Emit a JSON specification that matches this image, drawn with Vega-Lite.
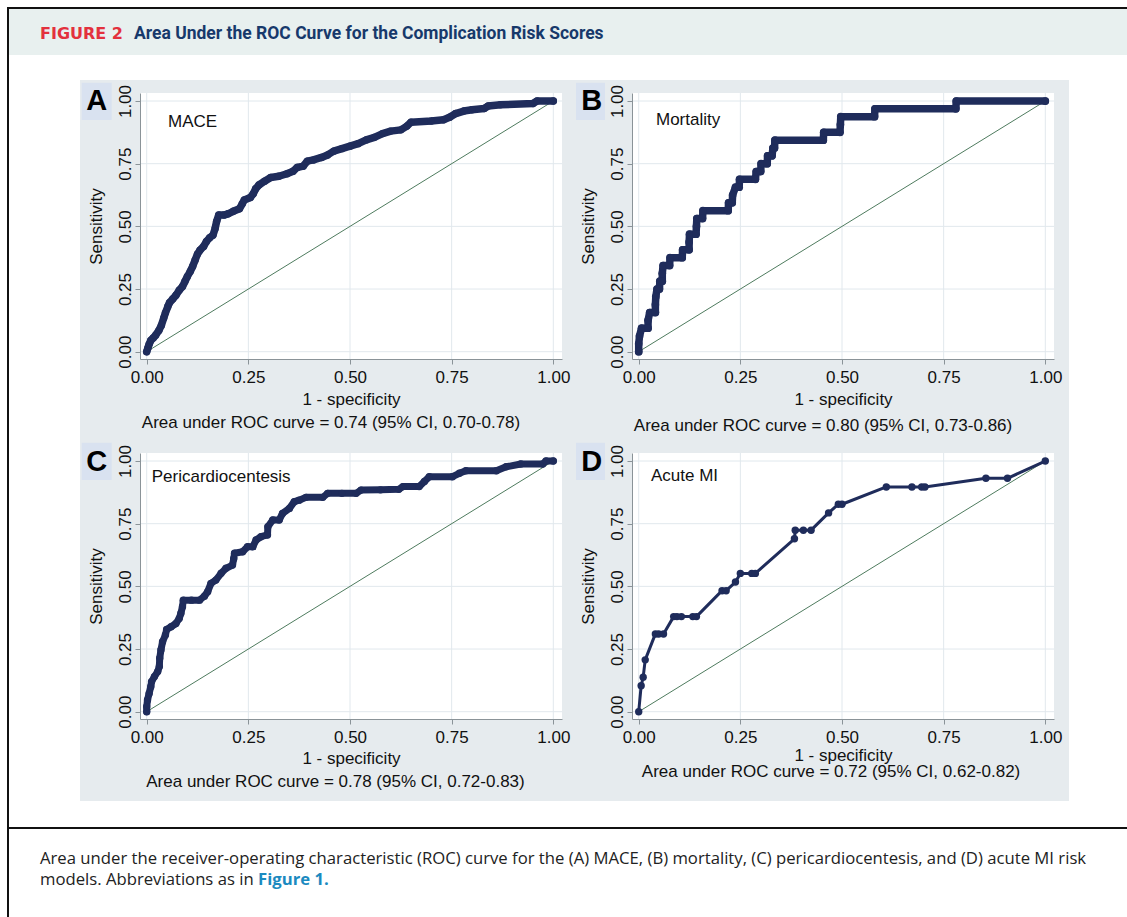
{
  "$schema": "https://vega.github.io/schema/vega-lite/v6.json",
  "padding": 0,
  "background": "#ffffff",
  "spacing": 0,
  "config": {
    "view": {"stroke": null},
    "axis": {
      "labelFont": "Liberation Sans", "labelFontSize": 17, "labelColor": "#111111",
      "titleFont": "Liberation Sans", "titleFontSize": 17, "titleFontWeight": "normal", "titleColor": "#111111",
      "domainColor": "#8a9398", "tickColor": "#8a9398", "tickSize": 5, "grid": false, "zindex": 1
    }
  },
  "datasets": {
    "figure": [{"label": "FIGURE 2", "title": "Area Under the ROC Curve for the Complication Risk Scores", "caption1": "Area under the receiver-operating characteristic (ROC) curve for the (A) MACE, (B) mortality, (C) pericardiocentesis, and (D) acute MI risk", "caption2": "models. Abbreviations as in", "caption3": "Figure 1."}],
    "panels": [
      {"panel": "A", "letter": "A", "name": "MACE", "note": "Area under ROC curve = 0.74 (95% CI, 0.70-0.78)"},
      {"panel": "B", "letter": "B", "name": "Mortality", "note": "Area under ROC curve = 0.80 (95% CI, 0.73-0.86)"},
      {"panel": "C", "letter": "C", "name": "Pericardiocentesis", "note": "Area under ROC curve = 0.78 (95% CI, 0.72-0.83)"},
      {"panel": "D", "letter": "D", "name": "Acute MI", "note": "Area under ROC curve = 0.72 (95% CI, 0.62-0.82)"}
    ],
    "grid": [{"v": 0}, {"v": 0.25}, {"v": 0.5}, {"v": 0.75}, {"v": 1}],
    "mace": [
      {"fpr": 0, "tpr": 0}, {"fpr": 0.003, "tpr": 0.015}, {"fpr": 0.006, "tpr": 0.03}, {"fpr": 0.01, "tpr": 0.045}, {"fpr": 0.016, "tpr": 0.055}, {"fpr": 0.022, "tpr": 0.066}, {"fpr": 0.03, "tpr": 0.085}, {"fpr": 0.036, "tpr": 0.105}, {"fpr": 0.042, "tpr": 0.135}, {"fpr": 0.046, "tpr": 0.155}, {"fpr": 0.052, "tpr": 0.18}, {"fpr": 0.056, "tpr": 0.195}, {"fpr": 0.064, "tpr": 0.21}, {"fpr": 0.072, "tpr": 0.225}, {"fpr": 0.08, "tpr": 0.245}, {"fpr": 0.088, "tpr": 0.26}, {"fpr": 0.094, "tpr": 0.28}, {"fpr": 0.1, "tpr": 0.3}, {"fpr": 0.107, "tpr": 0.32}, {"fpr": 0.113, "tpr": 0.34}, {"fpr": 0.119, "tpr": 0.365}, {"fpr": 0.125, "tpr": 0.39}, {"fpr": 0.131, "tpr": 0.405}, {"fpr": 0.14, "tpr": 0.42}, {"fpr": 0.147, "tpr": 0.44}, {"fpr": 0.155, "tpr": 0.455}, {"fpr": 0.163, "tpr": 0.465}, {"fpr": 0.168, "tpr": 0.49}, {"fpr": 0.172, "tpr": 0.52}, {"fpr": 0.177, "tpr": 0.545}, {"fpr": 0.19, "tpr": 0.545}, {"fpr": 0.2, "tpr": 0.55}, {"fpr": 0.213, "tpr": 0.56}, {"fpr": 0.228, "tpr": 0.57}, {"fpr": 0.235, "tpr": 0.59}, {"fpr": 0.24, "tpr": 0.605}, {"fpr": 0.255, "tpr": 0.615}, {"fpr": 0.262, "tpr": 0.63}, {"fpr": 0.268, "tpr": 0.65}, {"fpr": 0.276, "tpr": 0.665}, {"fpr": 0.29, "tpr": 0.68}, {"fpr": 0.305, "tpr": 0.695}, {"fpr": 0.325, "tpr": 0.7}, {"fpr": 0.345, "tpr": 0.71}, {"fpr": 0.36, "tpr": 0.72}, {"fpr": 0.37, "tpr": 0.735}, {"fpr": 0.385, "tpr": 0.74}, {"fpr": 0.395, "tpr": 0.76}, {"fpr": 0.41, "tpr": 0.765}, {"fpr": 0.43, "tpr": 0.775}, {"fpr": 0.445, "tpr": 0.785}, {"fpr": 0.46, "tpr": 0.8}, {"fpr": 0.48, "tpr": 0.81}, {"fpr": 0.5, "tpr": 0.82}, {"fpr": 0.52, "tpr": 0.83}, {"fpr": 0.54, "tpr": 0.845}, {"fpr": 0.56, "tpr": 0.855}, {"fpr": 0.58, "tpr": 0.87}, {"fpr": 0.6, "tpr": 0.88}, {"fpr": 0.625, "tpr": 0.885}, {"fpr": 0.64, "tpr": 0.9}, {"fpr": 0.65, "tpr": 0.915}, {"fpr": 0.7, "tpr": 0.92}, {"fpr": 0.73, "tpr": 0.925}, {"fpr": 0.745, "tpr": 0.935}, {"fpr": 0.76, "tpr": 0.95}, {"fpr": 0.78, "tpr": 0.96}, {"fpr": 0.8, "tpr": 0.965}, {"fpr": 0.83, "tpr": 0.97}, {"fpr": 0.84, "tpr": 0.98}, {"fpr": 0.87, "tpr": 0.985}, {"fpr": 0.95, "tpr": 0.99}, {"fpr": 0.96, "tpr": 1}, {"fpr": 1, "tpr": 1}
    ],
    "mortality": [
      {"fpr": 0, "tpr": 0}, {"fpr": 0, "tpr": 0.03125}, {"fpr": 0.002, "tpr": 0.0625}, {"fpr": 0.007, "tpr": 0.09375}, {"fpr": 0.023, "tpr": 0.09375}, {"fpr": 0.023, "tpr": 0.125}, {"fpr": 0.027, "tpr": 0.15625}, {"fpr": 0.041, "tpr": 0.15625}, {"fpr": 0.041, "tpr": 0.1875}, {"fpr": 0.042, "tpr": 0.21875}, {"fpr": 0.045, "tpr": 0.25}, {"fpr": 0.051, "tpr": 0.25}, {"fpr": 0.052, "tpr": 0.28125}, {"fpr": 0.058, "tpr": 0.28125}, {"fpr": 0.058, "tpr": 0.3125}, {"fpr": 0.06, "tpr": 0.34375}, {"fpr": 0.076, "tpr": 0.34375}, {"fpr": 0.077, "tpr": 0.375}, {"fpr": 0.107, "tpr": 0.375}, {"fpr": 0.108, "tpr": 0.40625}, {"fpr": 0.124, "tpr": 0.40625}, {"fpr": 0.124, "tpr": 0.4375}, {"fpr": 0.125, "tpr": 0.46875}, {"fpr": 0.141, "tpr": 0.46875}, {"fpr": 0.142, "tpr": 0.5}, {"fpr": 0.143, "tpr": 0.53125}, {"fpr": 0.157, "tpr": 0.53125}, {"fpr": 0.158, "tpr": 0.5625}, {"fpr": 0.22, "tpr": 0.5625}, {"fpr": 0.221, "tpr": 0.59375}, {"fpr": 0.23, "tpr": 0.59375}, {"fpr": 0.231, "tpr": 0.625}, {"fpr": 0.238, "tpr": 0.65625}, {"fpr": 0.247, "tpr": 0.65625}, {"fpr": 0.248, "tpr": 0.6875}, {"fpr": 0.287, "tpr": 0.6875}, {"fpr": 0.289, "tpr": 0.71875}, {"fpr": 0.3, "tpr": 0.71875}, {"fpr": 0.301, "tpr": 0.75}, {"fpr": 0.316, "tpr": 0.75}, {"fpr": 0.317, "tpr": 0.78125}, {"fpr": 0.328, "tpr": 0.78125}, {"fpr": 0.33, "tpr": 0.8125}, {"fpr": 0.334, "tpr": 0.8125}, {"fpr": 0.335, "tpr": 0.84375}, {"fpr": 0.454, "tpr": 0.84375}, {"fpr": 0.455, "tpr": 0.875}, {"fpr": 0.495, "tpr": 0.875}, {"fpr": 0.496, "tpr": 0.90625}, {"fpr": 0.497, "tpr": 0.9375}, {"fpr": 0.58, "tpr": 0.9375}, {"fpr": 0.581, "tpr": 0.96875}, {"fpr": 0.78, "tpr": 0.96875}, {"fpr": 0.781, "tpr": 1}, {"fpr": 1, "tpr": 1}
    ],
    "pericardio": [
      {"fpr": 0, "tpr": 0}, {"fpr": 0, "tpr": 0.02}, {"fpr": 0.002, "tpr": 0.047}, {"fpr": 0.006, "tpr": 0.073}, {"fpr": 0.01, "tpr": 0.1}, {"fpr": 0.012, "tpr": 0.12}, {"fpr": 0.019, "tpr": 0.14}, {"fpr": 0.027, "tpr": 0.16}, {"fpr": 0.031, "tpr": 0.18}, {"fpr": 0.032, "tpr": 0.213}, {"fpr": 0.035, "tpr": 0.246}, {"fpr": 0.039, "tpr": 0.279}, {"fpr": 0.046, "tpr": 0.306}, {"fpr": 0.049, "tpr": 0.328}, {"fpr": 0.06, "tpr": 0.339}, {"fpr": 0.072, "tpr": 0.352}, {"fpr": 0.08, "tpr": 0.372}, {"fpr": 0.084, "tpr": 0.392}, {"fpr": 0.088, "tpr": 0.419}, {"fpr": 0.09, "tpr": 0.445}, {"fpr": 0.11, "tpr": 0.445}, {"fpr": 0.13, "tpr": 0.445}, {"fpr": 0.142, "tpr": 0.461}, {"fpr": 0.15, "tpr": 0.479}, {"fpr": 0.158, "tpr": 0.512}, {"fpr": 0.17, "tpr": 0.525}, {"fpr": 0.183, "tpr": 0.552}, {"fpr": 0.195, "tpr": 0.572}, {"fpr": 0.211, "tpr": 0.585}, {"fpr": 0.214, "tpr": 0.61}, {"fpr": 0.216, "tpr": 0.632}, {"fpr": 0.236, "tpr": 0.638}, {"fpr": 0.248, "tpr": 0.658}, {"fpr": 0.261, "tpr": 0.658}, {"fpr": 0.269, "tpr": 0.685}, {"fpr": 0.281, "tpr": 0.698}, {"fpr": 0.297, "tpr": 0.705}, {"fpr": 0.298, "tpr": 0.738}, {"fpr": 0.31, "tpr": 0.765}, {"fpr": 0.326, "tpr": 0.765}, {"fpr": 0.334, "tpr": 0.791}, {"fpr": 0.351, "tpr": 0.811}, {"fpr": 0.363, "tpr": 0.838}, {"fpr": 0.375, "tpr": 0.844}, {"fpr": 0.392, "tpr": 0.855}, {"fpr": 0.433, "tpr": 0.855}, {"fpr": 0.445, "tpr": 0.871}, {"fpr": 0.48, "tpr": 0.871}, {"fpr": 0.515, "tpr": 0.871}, {"fpr": 0.527, "tpr": 0.884}, {"fpr": 0.575, "tpr": 0.885}, {"fpr": 0.62, "tpr": 0.887}, {"fpr": 0.63, "tpr": 0.898}, {"fpr": 0.67, "tpr": 0.898}, {"fpr": 0.683, "tpr": 0.918}, {"fpr": 0.695, "tpr": 0.9375}, {"fpr": 0.752, "tpr": 0.9375}, {"fpr": 0.769, "tpr": 0.951}, {"fpr": 0.785, "tpr": 0.961}, {"fpr": 0.86, "tpr": 0.961}, {"fpr": 0.884, "tpr": 0.977}, {"fpr": 0.92, "tpr": 0.988}, {"fpr": 0.974, "tpr": 0.988}, {"fpr": 0.982, "tpr": 1}, {"fpr": 1, "tpr": 1}
    ],
    "ami": [
      {"fpr": 0, "tpr": 0}, {"fpr": 0.006, "tpr": 0.1034}, {"fpr": 0.011, "tpr": 0.1379}, {"fpr": 0.016, "tpr": 0.2069}, {"fpr": 0.041, "tpr": 0.3103}, {"fpr": 0.049, "tpr": 0.3103}, {"fpr": 0.061, "tpr": 0.3103}, {"fpr": 0.086, "tpr": 0.3793}, {"fpr": 0.094, "tpr": 0.3793}, {"fpr": 0.105, "tpr": 0.3793}, {"fpr": 0.133, "tpr": 0.3793}, {"fpr": 0.142, "tpr": 0.3793}, {"fpr": 0.205, "tpr": 0.4828}, {"fpr": 0.215, "tpr": 0.4828}, {"fpr": 0.238, "tpr": 0.5172}, {"fpr": 0.25, "tpr": 0.5517}, {"fpr": 0.278, "tpr": 0.5517}, {"fpr": 0.287, "tpr": 0.5517}, {"fpr": 0.383, "tpr": 0.6897}, {"fpr": 0.385, "tpr": 0.7241}, {"fpr": 0.405, "tpr": 0.7241}, {"fpr": 0.424, "tpr": 0.7241}, {"fpr": 0.467, "tpr": 0.7931}, {"fpr": 0.491, "tpr": 0.8276}, {"fpr": 0.5, "tpr": 0.8276}, {"fpr": 0.609, "tpr": 0.8966}, {"fpr": 0.672, "tpr": 0.8966}, {"fpr": 0.696, "tpr": 0.8966}, {"fpr": 0.704, "tpr": 0.8966}, {"fpr": 0.854, "tpr": 0.931}, {"fpr": 0.907, "tpr": 0.931}, {"fpr": 1, "tpr": 1}
    ]
  },
  "vconcat": [
    {
      "width": 987, "height": 80,
      "data": {"name": "figure"},
      "layer": [
        {"mark": {"type": "rect", "color": "#e8f0ef"},
         "encoding": {
           "x": {"datum": -0.13273, "type": "quantitative", "scale": {"domain": [0, 1], "nice": false, "zero": false}, "axis": null},
           "x2": {"datum": 1},
           "y": {"datum": 0.1125, "type": "quantitative", "scale": {"domain": [0, 1], "nice": false, "zero": false, "reverse": true}, "axis": null},
           "y2": {"datum": 0.6875}}},
        {"mark": {"type": "rect", "color": "#111111"}, "encoding": {"x": {"datum": -0.13475}, "x2": {"datum": 1}, "y": {"datum": 0.0875}, "y2": {"datum": 0.1125}}},
        {"mark": {"type": "rect", "color": "#111111"}, "encoding": {"x": {"datum": -0.13475}, "x2": {"datum": -0.13273}, "y": {"datum": 0.0875}, "y2": {"datum": 1}}},
        {"mark": {"type": "text", "align": "left", "baseline": "middle", "font": "DejaVu Sans", "fontWeight": "bold", "fontSize": 16, "color": "#e3313d"},
         "encoding": {"x": {"datum": -0.10132}, "y": {"datum": 0.43}, "text": {"field": "label"}}},
        {"mark": {"type": "text", "align": "left", "baseline": "middle", "font": "Roboto", "fontWeight": "bold", "fontSize": 17.5, "color": "#17396b"},
         "encoding": {"x": {"datum": -0.00608}, "y": {"datum": 0.43}, "text": {"field": "title"}}}
      ]
    },
    {
      "hconcat": [
        {
          "width": 422, "height": 266,
          "data": {"name": "panels"},
          "transform": [{"filter": "datum.panel === 'A'"}],
          "layer": [
            {"mark": {"type": "rect", "color": "#e6ebee"},
             "encoding": {
               "x": {"datum": -0.1641, "type": "quantitative", "scale": {"domain": [-0.0165, 1.0214], "nice": false, "zero": false},
                     "axis": {"title": "1 - specificity", "values": [0, 0.25, 0.5, 0.75, 1], "format": ".2f", "labelFlush": false, "labelOverlap": false, "labelPadding": 5, "titlePadding": 6, "zindex": 1}},
               "x2": {"datum": 1.05334},
               "y": {"datum": -0.35217, "type": "quantitative", "scale": {"domain": [-0.0291, 1.032], "nice": false, "zero": false},
                     "axis": {"title": "Sensitivity", "values": [0, 0.25, 0.5, 0.75, 1], "format": ".2f", "labelFlush": false, "labelOverlap": false, "labelAngle": -90, "labelAlign": "center", "labelBaseline": "alphabetic", "labelPadding": 5, "titlePadding": 11, "zindex": 1}},
               "y2": {"datum": 1.08381}}},
            {"mark": {"type": "rect", "color": "#ffffff"}, "encoding": {"x": {"datum": -0.3608}, "x2": {"datum": -0.1641}, "y": {"datum": -0.35217}, "y2": {"datum": 1.08381}}},
            {"mark": {"type": "rect", "color": "#111111"}, "encoding": {"x": {"datum": -0.3436}, "x2": {"datum": -0.3387}, "y": {"datum": -0.35217}, "y2": {"datum": 1.08381}}},
            {"mark": {"type": "rect", "color": "#ffffff"}, "encoding": {"x": {"datum": -0.0165}, "x2": {"datum": 1.0214}, "y": {"datum": -0.0291}, "y2": {"datum": 1.032}}},
            {"data": {"name": "grid"}, "mark": {"type": "rule", "color": "#e1e8ed", "strokeWidth": 1}, "encoding": {"x": {"field": "v", "type": "quantitative", "title": "1 - specificity"}}},
            {"data": {"name": "grid"}, "mark": {"type": "rule", "color": "#e1e8ed", "strokeWidth": 1}, "encoding": {"y": {"field": "v", "type": "quantitative", "title": "Sensitivity"}}},
            {"mark": {"type": "rule", "color": "#4e7b5e", "strokeWidth": 1}, "encoding": {"x": {"datum": 0}, "y": {"datum": 0}, "x2": {"datum": 1}, "y2": {"datum": 1}}},
            {"data": {"name": "mace"}, "mark": {"type": "line", "color": "#1f2c5b", "strokeWidth": 7.5, "strokeCap": "round", "strokeJoin": "round"},
             "encoding": {"x": {"field": "fpr", "type": "quantitative", "title": "1 - specificity"}, "y": {"field": "tpr", "type": "quantitative", "title": "Sensitivity"}, "order": [{"field": "fpr"}, {"field": "tpr"}]}},
            {"data": {"name": "mace"}, "mark": {"type": "circle", "color": "#1f2c5b", "size": 55, "opacity": 1},
             "encoding": {"x": {"field": "fpr", "type": "quantitative", "title": "1 - specificity"}, "y": {"field": "tpr", "type": "quantitative", "title": "Sensitivity"}}},
            {"mark": {"type": "text", "align": "left", "baseline": "middle", "font": "Liberation Sans", "fontSize": 17, "color": "#111111"}, "encoding": {"x": {"datum": 0.0524}, "y": {"datum": 0.9163}, "text": {"field": "name"}}},
            {"mark": {"type": "text", "align": "center", "baseline": "middle", "font": "Liberation Sans", "fontSize": 17, "color": "#111111"}, "encoding": {"x": {"datum": 0.4533}, "y": {"datum": -0.283}, "text": {"field": "note"}}},
            {"mark": {"type": "rect", "color": "#d9e2f0"}, "encoding": {"x": {"datum": -0.1599}, "x2": {"datum": -0.0861}, "y": {"datum": 0.9243}, "y2": {"datum": 1.0731}}},
            {"mark": {"type": "text", "align": "center", "baseline": "alphabetic", "font": "Liberation Sans", "fontWeight": "bold", "fontSize": 29, "color": "#000000"}, "encoding": {"x": {"datum": -0.123}, "y": {"datum": 0.9642}, "text": {"field": "letter"}}}
          ]
        },
        {
          "width": 422, "height": 266,
          "data": {"name": "panels"},
          "transform": [{"filter": "datum.panel === 'B'"}],
          "layer": [
            {"mark": {"type": "rect", "color": "#e6ebee"},
             "encoding": {
               "x": {"datum": -0.15666, "type": "quantitative", "scale": {"domain": [-0.0165, 1.0214], "nice": false, "zero": false},
                     "axis": {"title": "1 - specificity", "values": [0, 0.25, 0.5, 0.75, 1], "format": ".2f", "labelFlush": false, "labelOverlap": false, "labelPadding": 5, "titlePadding": 6, "zindex": 1}},
               "x2": {"datum": 1.0583},
               "y": {"datum": -0.35217, "type": "quantitative", "scale": {"domain": [-0.0291, 1.032], "nice": false, "zero": false},
                     "axis": {"title": "Sensitivity", "values": [0, 0.25, 0.5, 0.75, 1], "format": ".2f", "labelFlush": false, "labelOverlap": false, "labelAngle": -90, "labelAlign": "center", "labelBaseline": "alphabetic", "labelPadding": 5, "titlePadding": 11, "zindex": 1}},
               "y2": {"datum": 1.08381}}},
            {"mark": {"type": "rect", "color": "#ffffff"}, "encoding": {"x": {"datum": -0.0165}, "x2": {"datum": 1.0214}, "y": {"datum": -0.0291}, "y2": {"datum": 1.032}}},
            {"data": {"name": "grid"}, "mark": {"type": "rule", "color": "#e1e8ed", "strokeWidth": 1}, "encoding": {"x": {"field": "v", "type": "quantitative", "title": "1 - specificity"}}},
            {"data": {"name": "grid"}, "mark": {"type": "rule", "color": "#e1e8ed", "strokeWidth": 1}, "encoding": {"y": {"field": "v", "type": "quantitative", "title": "Sensitivity"}}},
            {"mark": {"type": "rule", "color": "#4e7b5e", "strokeWidth": 1}, "encoding": {"x": {"datum": 0}, "y": {"datum": 0}, "x2": {"datum": 1}, "y2": {"datum": 1}}},
            {"data": {"name": "mortality"}, "mark": {"type": "line", "color": "#1f2c5b", "strokeWidth": 7.5, "strokeCap": "round", "strokeJoin": "round"},
             "encoding": {"x": {"field": "fpr", "type": "quantitative", "title": "1 - specificity"}, "y": {"field": "tpr", "type": "quantitative", "title": "Sensitivity"}, "order": [{"field": "fpr"}, {"field": "tpr"}]}},
            {"data": {"name": "mortality"}, "mark": {"type": "circle", "color": "#1f2c5b", "size": 60, "opacity": 1},
             "encoding": {"x": {"field": "fpr", "type": "quantitative", "title": "1 - specificity"}, "y": {"field": "tpr", "type": "quantitative", "title": "Sensitivity"}}},
            {"mark": {"type": "text", "align": "left", "baseline": "middle", "font": "Liberation Sans", "fontSize": 17, "color": "#111111"}, "encoding": {"x": {"datum": 0.0425}, "y": {"datum": 0.9243}, "text": {"field": "name"}}},
            {"mark": {"type": "text", "align": "center", "baseline": "middle", "font": "Liberation Sans", "fontSize": 17, "color": "#111111"}, "encoding": {"x": {"datum": 0.4533}, "y": {"datum": -0.2955}, "text": {"field": "note"}}},
            {"mark": {"type": "rect", "color": "#d9e2f0"}, "encoding": {"x": {"datum": -0.1542}, "x2": {"datum": -0.0829}, "y": {"datum": 0.9243}, "y2": {"datum": 1.0731}}},
            {"mark": {"type": "text", "align": "center", "baseline": "alphabetic", "font": "Liberation Sans", "fontWeight": "bold", "fontSize": 29, "color": "#000000"}, "encoding": {"x": {"datum": -0.1156}, "y": {"datum": 0.9642}, "text": {"field": "letter"}}}
          ]
        }
      ],
      "spacing": 0
    },
    {
      "hconcat": [
        {
          "width": 422, "height": 266,
          "data": {"name": "panels"},
          "transform": [{"filter": "datum.panel === 'C'"}],
          "layer": [
            {"mark": {"type": "rect", "color": "#e6ebee"},
             "encoding": {
               "x": {"datum": -0.1641, "type": "quantitative", "scale": {"domain": [-0.0165, 1.0214], "nice": false, "zero": false},
                     "axis": {"title": "1 - specificity", "values": [0, 0.25, 0.5, 0.75, 1], "format": ".2f", "labelFlush": false, "labelOverlap": false, "labelPadding": 5, "titlePadding": 5, "zindex": 1}},
               "x2": {"datum": 1.05334},
               "y": {"datum": -0.35616, "type": "quantitative", "scale": {"domain": [-0.0291, 1.032], "nice": false, "zero": false},
                     "axis": {"title": "Sensitivity", "values": [0, 0.25, 0.5, 0.75, 1], "format": ".2f", "labelFlush": false, "labelOverlap": false, "labelAngle": -90, "labelAlign": "center", "labelBaseline": "alphabetic", "labelPadding": 5, "titlePadding": 11, "zindex": 1}},
               "y2": {"datum": 1.08381}}},
            {"mark": {"type": "rect", "color": "#ffffff"}, "encoding": {"x": {"datum": -0.3608}, "x2": {"datum": -0.1641}, "y": {"datum": -0.35616}, "y2": {"datum": 1.08381}}},
            {"mark": {"type": "rect", "color": "#111111"}, "encoding": {"x": {"datum": -0.3436}, "x2": {"datum": -0.3387}, "y": {"datum": -0.35616}, "y2": {"datum": 1.08381}}},
            {"mark": {"type": "rect", "color": "#ffffff"}, "encoding": {"x": {"datum": -0.0165}, "x2": {"datum": 1.0214}, "y": {"datum": -0.0291}, "y2": {"datum": 1.032}}},
            {"data": {"name": "grid"}, "mark": {"type": "rule", "color": "#e1e8ed", "strokeWidth": 1}, "encoding": {"x": {"field": "v", "type": "quantitative", "title": "1 - specificity"}}},
            {"data": {"name": "grid"}, "mark": {"type": "rule", "color": "#e1e8ed", "strokeWidth": 1}, "encoding": {"y": {"field": "v", "type": "quantitative", "title": "Sensitivity"}}},
            {"mark": {"type": "rule", "color": "#4e7b5e", "strokeWidth": 1}, "encoding": {"x": {"datum": 0}, "y": {"datum": 0}, "x2": {"datum": 1}, "y2": {"datum": 1}}},
            {"data": {"name": "pericardio"}, "mark": {"type": "line", "color": "#1f2c5b", "strokeWidth": 7, "strokeCap": "round", "strokeJoin": "round"},
             "encoding": {"x": {"field": "fpr", "type": "quantitative", "title": "1 - specificity"}, "y": {"field": "tpr", "type": "quantitative", "title": "Sensitivity"}, "order": [{"field": "fpr"}, {"field": "tpr"}]}},
            {"data": {"name": "pericardio"}, "mark": {"type": "circle", "color": "#1f2c5b", "size": 55, "opacity": 1},
             "encoding": {"x": {"field": "fpr", "type": "quantitative", "title": "1 - specificity"}, "y": {"field": "tpr", "type": "quantitative", "title": "Sensitivity"}}},
            {"mark": {"type": "text", "align": "left", "baseline": "middle", "font": "Liberation Sans", "fontSize": 17, "color": "#111111"}, "encoding": {"x": {"datum": 0.0123}, "y": {"datum": 0.9363}, "text": {"field": "name"}}},
            {"mark": {"type": "text", "align": "center", "baseline": "middle", "font": "Liberation Sans", "fontSize": 17, "color": "#111111"}, "encoding": {"x": {"datum": 0.4643}, "y": {"datum": -0.281}, "text": {"field": "note"}}},
            {"mark": {"type": "rect", "color": "#d9e2f0"}, "encoding": {"x": {"datum": -0.1599}, "x2": {"datum": -0.0861}, "y": {"datum": 0.9243}, "y2": {"datum": 1.0731}}},
            {"mark": {"type": "text", "align": "center", "baseline": "alphabetic", "font": "Liberation Sans", "fontWeight": "bold", "fontSize": 29, "color": "#000000"}, "encoding": {"x": {"datum": -0.123}, "y": {"datum": 0.962}, "text": {"field": "letter"}}}
          ]
        },
        {
          "width": 422, "height": 266,
          "data": {"name": "panels"},
          "transform": [{"filter": "datum.panel === 'D'"}],
          "layer": [
            {"mark": {"type": "rect", "color": "#e6ebee"},
             "encoding": {
               "x": {"datum": -0.15666, "type": "quantitative", "scale": {"domain": [-0.0165, 1.0214], "nice": false, "zero": false},
                     "axis": {"title": "1 - specificity", "values": [0, 0.25, 0.5, 0.75, 1], "format": ".2f", "labelFlush": false, "labelOverlap": false, "labelPadding": 5, "titlePadding": 2, "zindex": 1}},
               "x2": {"datum": 1.0583},
               "y": {"datum": -0.35616, "type": "quantitative", "scale": {"domain": [-0.0291, 1.032], "nice": false, "zero": false},
                     "axis": {"title": "Sensitivity", "values": [0, 0.25, 0.5, 0.75, 1], "format": ".2f", "labelFlush": false, "labelOverlap": false, "labelAngle": -90, "labelAlign": "center", "labelBaseline": "alphabetic", "labelPadding": 5, "titlePadding": 11, "zindex": 1}},
               "y2": {"datum": 1.08381}}},
            {"mark": {"type": "rect", "color": "#ffffff"}, "encoding": {"x": {"datum": -0.0165}, "x2": {"datum": 1.0214}, "y": {"datum": -0.0291}, "y2": {"datum": 1.032}}},
            {"data": {"name": "grid"}, "mark": {"type": "rule", "color": "#e1e8ed", "strokeWidth": 1}, "encoding": {"x": {"field": "v", "type": "quantitative", "title": "1 - specificity"}}},
            {"data": {"name": "grid"}, "mark": {"type": "rule", "color": "#e1e8ed", "strokeWidth": 1}, "encoding": {"y": {"field": "v", "type": "quantitative", "title": "Sensitivity"}}},
            {"mark": {"type": "rule", "color": "#4e7b5e", "strokeWidth": 1}, "encoding": {"x": {"datum": 0}, "y": {"datum": 0}, "x2": {"datum": 1}, "y2": {"datum": 1}}},
            {"data": {"name": "ami"}, "mark": {"type": "line", "color": "#1f2c5b", "strokeWidth": 3, "strokeCap": "round", "strokeJoin": "round"},
             "encoding": {"x": {"field": "fpr", "type": "quantitative", "title": "1 - specificity"}, "y": {"field": "tpr", "type": "quantitative", "title": "Sensitivity"}, "order": [{"field": "fpr"}, {"field": "tpr"}]}},
            {"data": {"name": "ami"}, "mark": {"type": "circle", "color": "#1f2c5b", "size": 55, "opacity": 1},
             "encoding": {"x": {"field": "fpr", "type": "quantitative", "title": "1 - specificity"}, "y": {"field": "tpr", "type": "quantitative", "title": "Sensitivity"}}},
            {"mark": {"type": "text", "align": "left", "baseline": "middle", "font": "Liberation Sans", "fontSize": 17, "color": "#111111"}, "encoding": {"x": {"datum": 0.0302}, "y": {"datum": 0.9403}, "text": {"field": "name"}}},
            {"mark": {"type": "text", "align": "center", "baseline": "middle", "font": "Liberation Sans", "fontSize": 17, "color": "#111111"}, "encoding": {"x": {"datum": 0.473}, "y": {"datum": -0.242}, "text": {"field": "note"}}},
            {"mark": {"type": "rect", "color": "#d9e2f0"}, "encoding": {"x": {"datum": -0.1542}, "x2": {"datum": -0.0829}, "y": {"datum": 0.9243}, "y2": {"datum": 1.0731}}},
            {"mark": {"type": "text", "align": "center", "baseline": "alphabetic", "font": "Liberation Sans", "fontWeight": "bold", "fontSize": 29, "color": "#000000"}, "encoding": {"x": {"datum": -0.1156}, "y": {"datum": 0.962}, "text": {"field": "letter"}}}
          ]
        }
      ],
      "spacing": 0
    },
    {
      "width": 987, "height": 116,
      "data": {"name": "figure"},
      "layer": [
        {"mark": {"type": "rect", "color": "#111111"},
         "encoding": {
           "x": {"datum": -0.13475, "type": "quantitative", "scale": {"domain": [0, 1], "nice": false, "zero": false}, "axis": null},
           "x2": {"datum": -0.13273},
           "y": {"datum": 0, "type": "quantitative", "scale": {"domain": [0, 1], "nice": false, "zero": false, "reverse": true}, "axis": null},
           "y2": {"datum": 1}}},
        {"mark": {"type": "rect", "color": "#111111"}, "encoding": {"x": {"datum": -0.13475}, "x2": {"datum": 1}, "y": {"datum": 0.2241}, "y2": {"datum": 0.2414}}},
        {"mark": {"type": "text", "align": "left", "baseline": "middle", "font": "Open Sans", "fontSize": 16.7, "color": "#222222"},
         "encoding": {"x": {"datum": -0.10132}, "y": {"datum": 0.5}, "text": {"field": "caption1"}}},
        {"mark": {"type": "text", "align": "left", "baseline": "middle", "font": "Open Sans", "fontSize": 16.7, "color": "#222222"},
         "encoding": {"x": {"datum": -0.10132}, "y": {"datum": 0.685}, "text": {"field": "caption2"}}},
        {"mark": {"type": "text", "align": "left", "baseline": "middle", "font": "Open Sans", "fontWeight": "bold", "fontSize": 16.7, "color": "#1b8ac0"},
         "encoding": {"x": {"datum": 0.1196}, "y": {"datum": 0.685}, "text": {"field": "caption3"}}}
      ]
    }
  ]
}
